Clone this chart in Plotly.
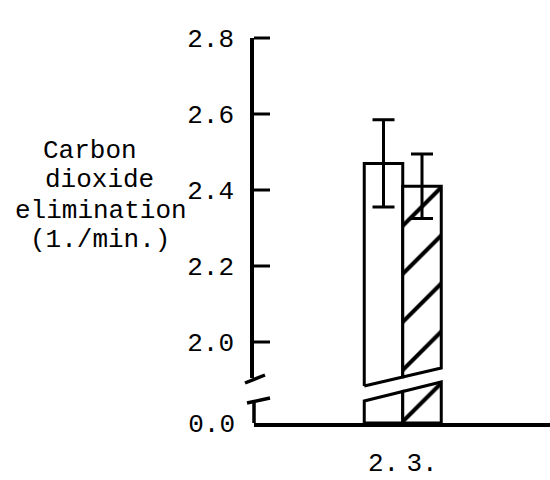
import plotly.graph_objects as go

# ---------------- data ----------------
groups = [2, 3]
group_labels = ["2.", "3."]
means = [2.47, 2.41]
errors = [0.115, 0.085]
hatched = [False, True]
upper_ticks = [2.0, 2.2, 2.4, 2.6, 2.8]
upper_tick_labels = ["2.0", "2.2", "2.4", "2.6", "2.8"]
lower_ticks = [0.0]
lower_tick_labels = ["0.0"]
title_lines = ["Carbon", "dioxide", "elimination", "(1./min.)"]

# ---------------- geometry (style) ----------------
W, H = 550, 480
L, R, T, B = 254, 0, 38, 57
PW, PH = W - L - R, H - T - B
BASE_PX = H - B                 # pixel row of 0.0 baseline
X_UNIT = 38.5                   # px per category unit
X0_PX = 383.5                   # pixel of first group centre
PPU = 380.0                     # px per data unit (both segments)
TOP_VAL = 2.8
UP_DOM_BOTTOM_PX = 390
LOW_DOM_TOP_PX = 378
UP_AXIS_END_PX = 378
LOW_AXIS_TOP_PX = 401
HALF = 0.5
TICK_LEN = 16
FONT = dict(family="Liberation Mono, Courier New, monospace", size=26, color="black")


def up_val(py):
    return TOP_VAL - (py - T) / PPU


def up_px(v):
    return T + (TOP_VAL - v) * PPU


def low_val(py):
    return (BASE_PX - py) / PPU


def paper_x(px):
    return (px - L) / PW


def paper_y(py):
    return (BASE_PX - py) / PH


x_min = groups[0] - (X0_PX - L) / X_UNIT
x_max = groups[0] + (W - R - X0_PX) / X_UNIT

gl, gr = groups[0] - HALF, groups[-1] + HALF
# slanted cut lines (pixel rows at left / right of bar group)
up_cut = (386, 368)
low_cut = (401, 382)


def cut(x, rows, conv):
    a, b = conv(rows[0]), conv(rows[1])
    return a + (b - a) * (x - gl) / (gr - gl)


fig = go.Figure()

for g, m, h in zip(groups, means, hatched):
    xl, xr = g - HALF, g + HALF
    pattern = dict(shape="/" if h else "", fgcolor="black", bgcolor="white",
                   fgopacity=1, size=34, solidity=0.12)
    # upper piece
    fig.add_trace(go.Scatter(
        x=[xl, xl, xr, xr, xl],
        y=[cut(xl, up_cut, up_val), m, m, cut(xr, up_cut, up_val), cut(xl, up_cut, up_val)],
        xaxis="x", yaxis="y2", mode="lines", fill="toself", fillcolor="white",
        fillpattern=pattern, line=dict(color="black", width=3),
        hoverinfo="skip", showlegend=False))
    # lower piece
    fig.add_trace(go.Scatter(
        x=[xl, xl, xr, xr, xl],
        y=[0, cut(xl, low_cut, low_val), cut(xr, low_cut, low_val), 0, 0],
        xaxis="x", yaxis="y", mode="lines", fill="toself", fillcolor="white",
        fillpattern=pattern, line=dict(color="black", width=3),
        hoverinfo="skip", showlegend=False))

# error bars (on the visible upper axis, same scale as y2)
fig.add_trace(go.Scatter(
    x=groups, y=means, xaxis="x", yaxis="y3", mode="markers", cliponaxis=False,
    marker=dict(size=1, color="rgba(0,0,0,0)"),
    error_y=dict(type="data", array=errors, color="black", thickness=3, width=11),
    hoverinfo="skip", showlegend=False))

# lower axis segment and break marks (paper refs -> not clipped)
shapes = [
    dict(type="line", xref="paper", yref="paper", x0=0, x1=0,
         y0=0, y1=paper_y(LOW_AXIS_TOP_PX), line=dict(color="black", width=3.5)),
    dict(type="line", xref="paper", yref="paper", xsizemode="pixel", ysizemode="pixel",
         xanchor=0, yanchor=paper_y(UP_AXIS_END_PX), x0=-9, x1=11, y0=-5, y1=3,
         line=dict(color="black", width=3.5)),
    dict(type="line", xref="paper", yref="paper", xsizemode="pixel", ysizemode="pixel",
         xanchor=0, yanchor=paper_y(LOW_AXIS_TOP_PX), x0=-7, x1=16, y0=-2, y1=3,
         line=dict(color="black", width=3.5)),
]
# inward tick marks of the upper segment, at the tick values
for v in upper_ticks:
    shapes.append(dict(type="line", xref="paper", yref="paper", xsizemode="pixel",
                       xanchor=0, x0=0, x1=TICK_LEN, y0=paper_y(up_px(v)), y1=paper_y(up_px(v)),
                       line=dict(color="black", width=3)))

title_rows = [151, 180, 211, 240]
title_cols = [90, 99, 101, 100]
annotations = [
    dict(text=t, xref="paper", yref="paper", x=paper_x(c), y=paper_y(r),
         xanchor="center", yanchor="middle", showarrow=False, font=FONT)
    for t, r, c in zip(title_lines, title_rows, title_cols)
]

hidden = dict(showline=False, showgrid=False, zeroline=False, showticklabels=False,
              ticks="", automargin=False)

fig.update_layout(
    width=W, height=H, margin=dict(l=L, r=R, t=T, b=B, pad=0, autoexpand=False),
    paper_bgcolor="white", plot_bgcolor="rgba(0,0,0,0)", showlegend=False,
    xaxis=dict(range=[x_min, x_max], anchor="y", tickvals=groups, ticktext=group_labels,
               showline=True, linecolor="black", linewidth=4, ticks="",
               showgrid=False, zeroline=False, tickfont=FONT, ticklabelstandoff=13,
               automargin=False, fixedrange=True),
    # lower segment (0.0)
    yaxis=dict(domain=[0, paper_y(LOW_DOM_TOP_PX)], range=[0, low_val(LOW_DOM_TOP_PX)],
               anchor="x", tickvals=lower_ticks, ticktext=lower_tick_labels, ticks="",
               showline=False, showgrid=False, zeroline=False, tickfont=FONT,
               ticklabelstandoff=18, automargin=False),
    # upper segment used by the bars (invisible)
    yaxis2=dict(domain=[paper_y(UP_DOM_BOTTOM_PX), 1],
                range=[up_val(UP_DOM_BOTTOM_PX), TOP_VAL], anchor="x", **hidden),
    # visible upper axis (same scale, ends at the break)
    yaxis3=dict(domain=[paper_y(UP_AXIS_END_PX), 1],
                range=[up_val(UP_AXIS_END_PX), TOP_VAL], anchor="x",
                tickvals=upper_ticks, ticktext=upper_tick_labels, ticks="",
                showline=True, linecolor="black", linewidth=3.5,
                showgrid=False, zeroline=False, tickfont=FONT,
                ticklabelstandoff=11, automargin=False),
    shapes=shapes, annotations=annotations,
)

fig.write_html("out.html", config={"displayModeBar": False})
